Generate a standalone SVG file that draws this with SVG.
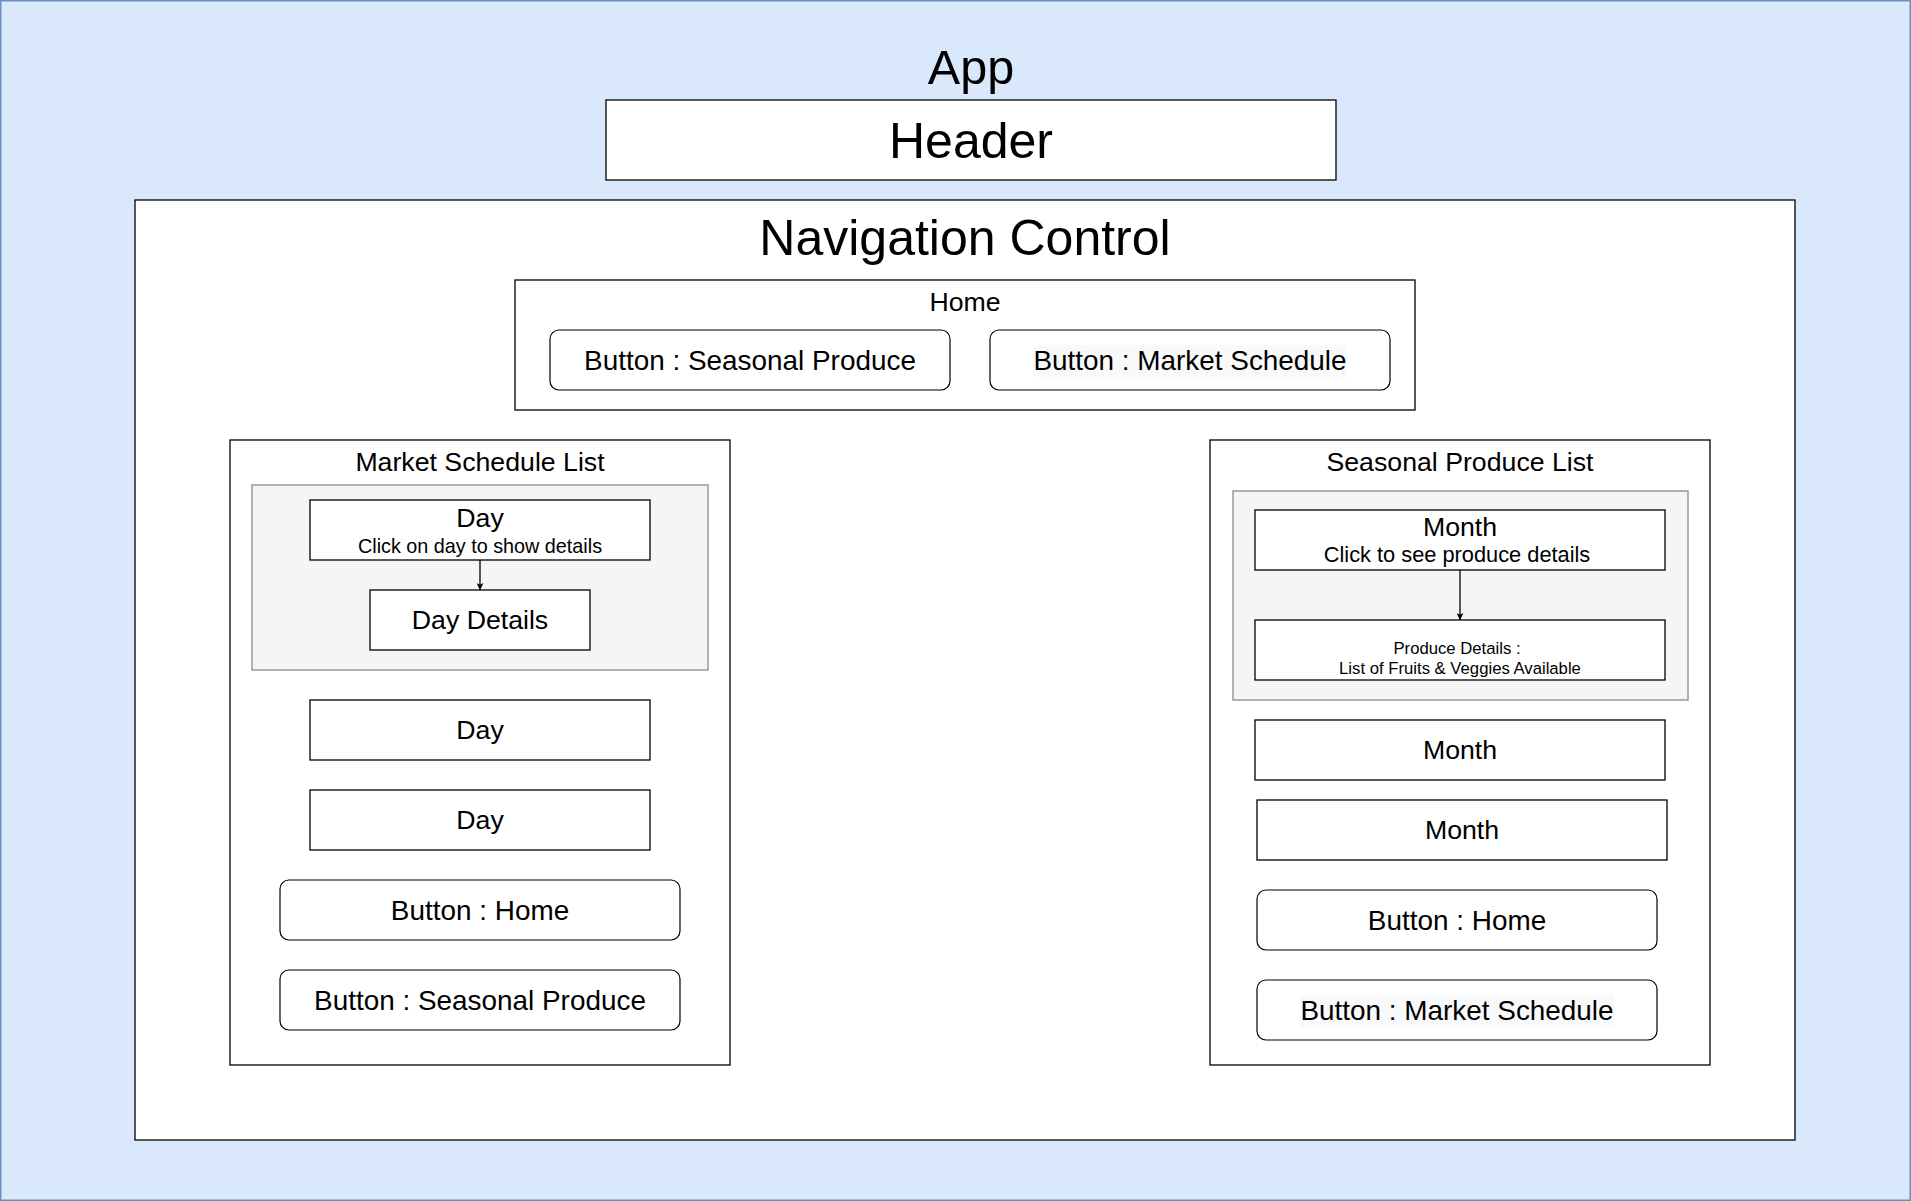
<svg xmlns="http://www.w3.org/2000/svg" width="1911" height="1201" viewBox="0 0 1911 1201">
<defs>
<style>
text{font-family:"Liberation Sans",Arial,Helvetica,sans-serif;fill:#000;text-anchor:middle}
.box{fill:#fff;stroke:#000;stroke-width:1.3}
.btn{fill:#fff;stroke:#000;stroke-width:1.2}
.gray{fill:#f5f5f5;stroke:#8a8a8a;stroke-width:1.3}
.big{font-size:50px}
.t27{font-size:26.7px}
.t28{font-size:27.9px}
.t20{font-size:19.8px}
.t22{font-size:21.8px}
.t17{font-size:16.7px}
.hl{fill:#f8f9fa}
.conn{stroke:#000;stroke-width:1.3;fill:none}
</style>
<marker id="arr" viewBox="0 0 10 10" refX="10" refY="5" markerWidth="7" markerHeight="7" markerUnits="userSpaceOnUse" orient="auto">
<path d="M0,0 L10,5 L0,10 L2.5,5 Z" fill="#000"/>
</marker>
</defs>
<g id="app">
<rect x="0.75" y="0.75" width="1909.5" height="1199.5" fill="#dae8fc" stroke="#6c8ebf" stroke-width="1.5"/>
<text class="big" x="971" y="84" style="font-size:48.5px">App</text>
</g>
<g id="header">
<rect class="box" x="606" y="100" width="730" height="80"/>
<text class="big" x="971" y="158">Header</text>
</g>
<g id="navigation-control">
<rect class="box" x="135" y="200" width="1660" height="940"/>
<text class="big" x="965" y="255">Navigation Control</text>
</g>
<g id="home">
<rect class="box" x="515" y="280" width="900" height="130"/>
<text class="t27" x="965" y="311">Home</text>
</g>
<g id="home-btn-seasonal">
<rect class="btn" x="550" y="330" width="400" height="60" rx="9"/>
<text class="t28" x="750" y="370">Button : Seasonal Produce</text>
</g>
<g id="home-btn-market">
<rect class="btn" x="990" y="330" width="400" height="60" rx="9"/>
<rect class="hl" x="1033" y="345" width="314" height="32"/>
<text class="t28" x="1190" y="370">Button : Market Schedule</text>
</g>
<g id="market-schedule-list">
<rect class="box" x="230" y="440" width="500" height="625"/>
<text class="t27" x="480" y="471">Market Schedule List</text>
</g>
<g id="market-day-group">
<rect class="gray" x="252" y="485" width="456" height="185"/>
</g>
<g id="day-clickable">
<rect class="box" x="310" y="500" width="340" height="60"/>
<text class="t27" x="480" y="527">Day</text>
<text class="t20" x="480" y="553">Click on day to show details</text>
</g>
<g id="day-details">
<rect class="box" x="370" y="590" width="220" height="60"/>
<text class="t27" x="480" y="629">Day Details</text>
</g>
<g id="day-2">
<rect class="box" x="310" y="700" width="340" height="60"/>
<text class="t27" x="480" y="739">Day</text>
</g>
<g id="day-3">
<rect class="box" x="310" y="790" width="340" height="60"/>
<text class="t27" x="480" y="829">Day</text>
</g>
<g id="market-btn-home">
<rect class="btn" x="280" y="880" width="400" height="60" rx="9"/>
<text class="t28" x="480" y="920">Button : Home</text>
</g>
<g id="market-btn-seasonal">
<rect class="btn" x="280" y="970" width="400" height="60" rx="9"/>
<text class="t28" x="480" y="1010">Button : Seasonal Produce</text>
</g>
<g id="seasonal-produce-list">
<rect class="box" x="1210" y="440" width="500" height="625"/>
<text class="t27" x="1460" y="471">Seasonal Produce List</text>
</g>
<g id="seasonal-month-group">
<rect class="gray" x="1233" y="491" width="455" height="209"/>
</g>
<g id="month-clickable">
<rect class="box" x="1255" y="510" width="410" height="60"/>
<text class="t27" x="1460" y="536">Month</text>
<text class="t22" x="1457" y="562">Click to see produce details</text>
</g>
<g id="produce-details">
<rect class="box" x="1255" y="620" width="410" height="60"/>
<text class="t17" x="1457" y="654">Produce Details :</text>
<text class="t17" x="1460" y="674">List of Fruits &amp; Veggies Available</text>
</g>
<g id="month-2">
<rect class="box" x="1255" y="720" width="410" height="60"/>
<text class="t27" x="1460" y="759">Month</text>
</g>
<g id="month-3">
<rect class="box" x="1257" y="800" width="410" height="60"/>
<text class="t27" x="1462" y="839">Month</text>
</g>
<g id="seasonal-btn-home">
<rect class="btn" x="1257" y="890" width="400" height="60" rx="9"/>
<text class="t28" x="1457" y="930">Button : Home</text>
</g>
<g id="seasonal-btn-market">
<rect class="btn" x="1257" y="980" width="400" height="60" rx="9"/>
<rect class="hl" x="1300" y="995" width="314" height="32"/>
<text class="t28" x="1457" y="1020">Button : Market Schedule</text>
</g>
<g id="connectors">
<line class="conn" x1="480" y1="560" x2="480" y2="590" marker-end="url(#arr)"/>
<line class="conn" x1="1460" y1="570" x2="1460" y2="620" marker-end="url(#arr)"/>
</g>
</svg>
